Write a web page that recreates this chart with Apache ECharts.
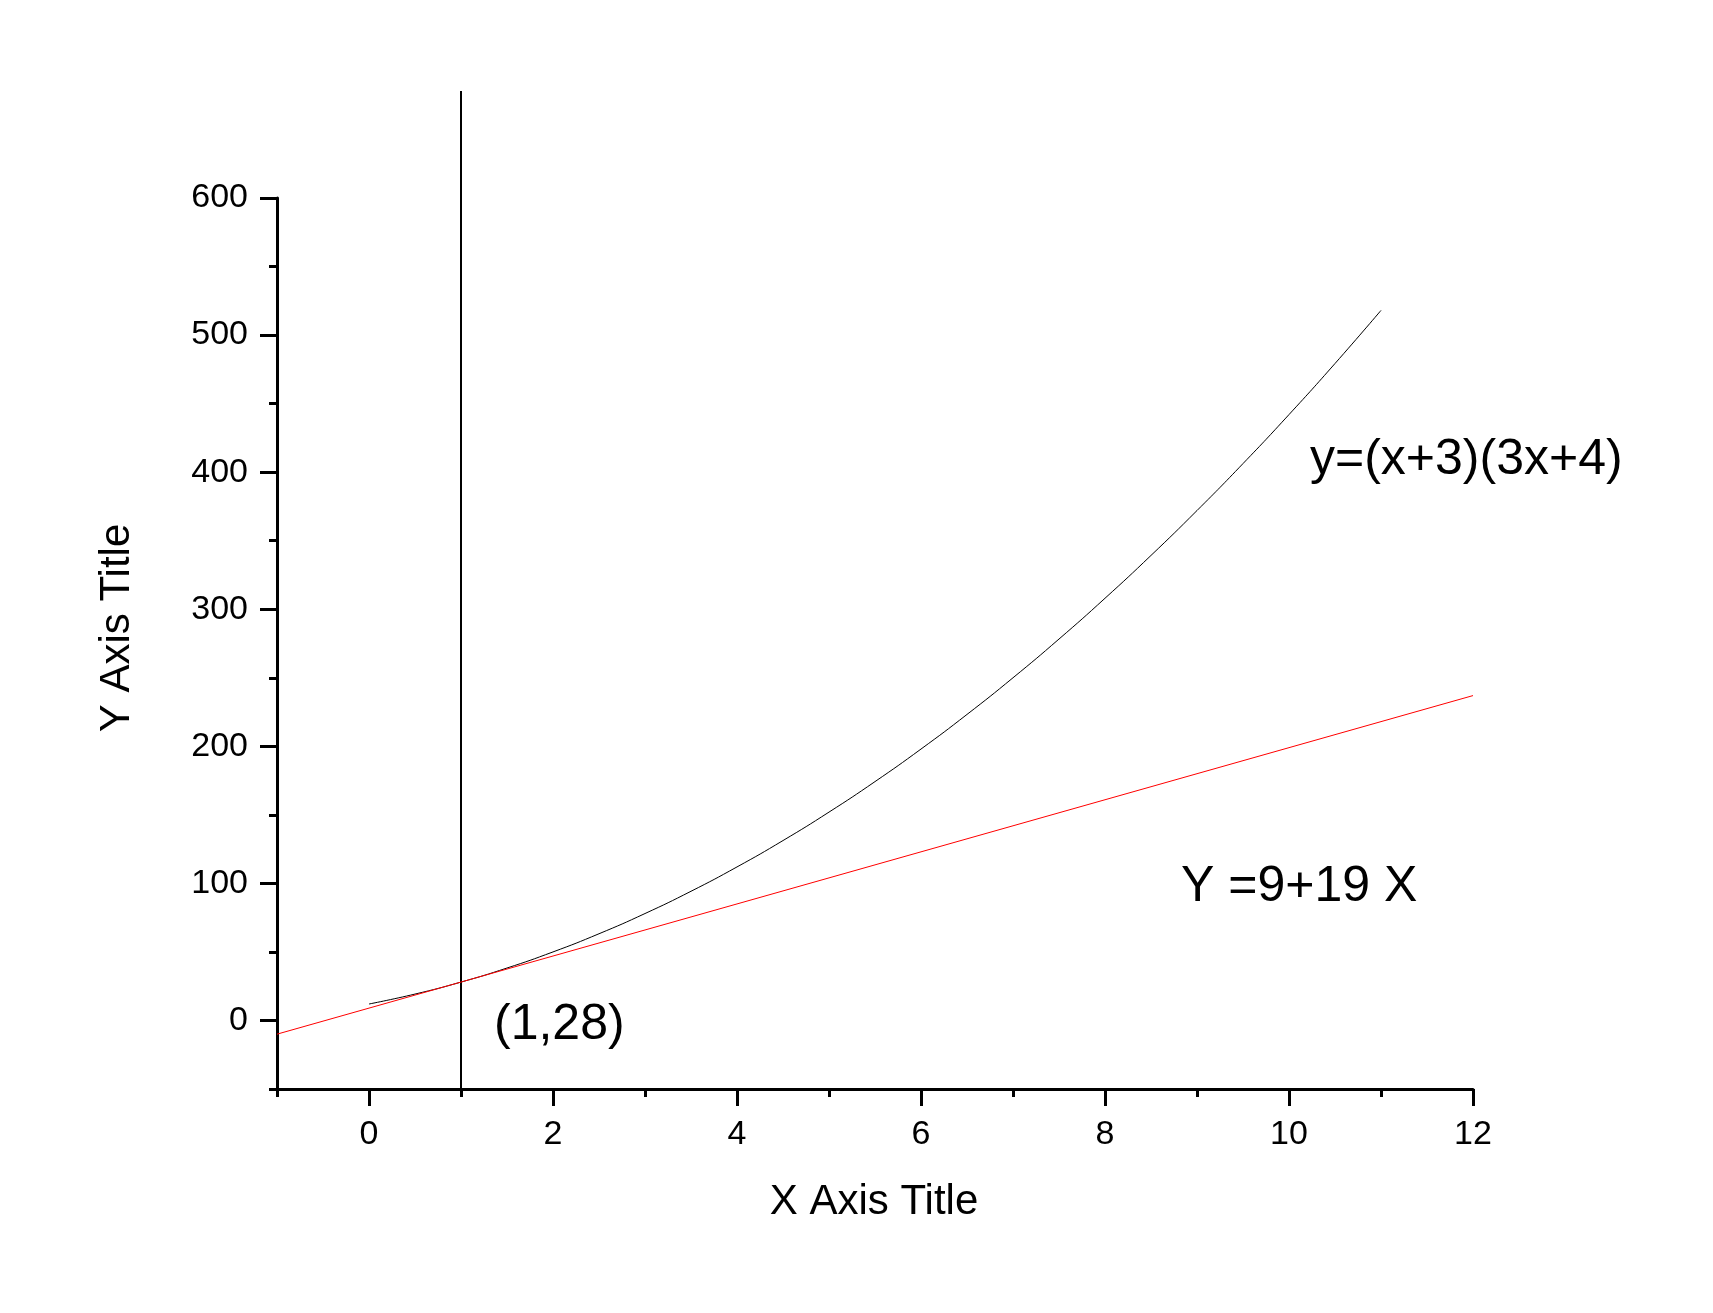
<!DOCTYPE html>
<html>
<head>
<meta charset="utf-8">
<style>html,body{margin:0;padding:0;background:#fff;}#c{width:1713px;height:1313px;}</style>
<script src="https://cdn.jsdelivr.net/npm/echarts@6/dist/echarts.min.js"></script>
</head>
<body>
<div id="c"></div>
<script>
// ---- data ----
var curveX = [0,0.5,1,1.5,2,2.5,3,3.5,4,4.5,5,5.5,6,6.5,7,7.5,8,8.5,9,9.5,10,10.5,11];
var curveY = [12,19.25,28,38.25,50,63.25,78,94.25,112,131.25,152,174.25,198,223.25,250,278.25,308,339.25,372,406.25,442,479.25,518];
var tangentX = [-1, 12];
var tangentY = [-10, 237];
var vlineX = [1, 1];
var vlineY = [-50, 678];
var xTickLabels = [0,2,4,6,8,10,12];
var yTickLabels = [0,100,200,300,400,500,600];
var labelCurve = 'y=(x+3)(3x+4)';
var labelLine = 'Y =9+19 X';
var labelPoint = '(1,28)';
var xTitle = 'X Axis Title';
var yTitle = 'Y Axis Title';

function zip(a, b) { return a.map(function (v, i) { return [v, b[i]]; }); }

var FONT = '"Liberation Sans", Arial, sans-serif';
var chart = echarts.init(document.getElementById('c'), null, {renderer: 'canvas'});
var axisLineStyle = {color: '#000', width: 3};

chart.setOption({
  animation: false,
  backgroundColor: '#fff',
  grid: {left: 277, top: 198, width: 1196, height: 891, containLabel: false, outerBoundsMode: 'none'},
  xAxis: [
    { type: 'value', min: -1, max: 12, interval: 1,
      axisLine: {show: true, onZero: false, lineStyle: axisLineStyle},
      axisTick: {show: true, length: 8, lineStyle: {color: '#000', width: 3}},
      axisLabel: {show: false}, splitLine: {show: false} },
    { type: 'value', min: -1, max: 12, position: 'bottom',
      axisLine: {show: false, onZero: false},
      axisTick: {show: true, length: 17, customValues: xTickLabels, lineStyle: {color: '#000', width: 3}},
      axisLabel: {show: true, customValues: xTickLabels, margin: 29, color: '#000', fontSize: 34, fontFamily: FONT},
      splitLine: {show: false} }
  ],
  yAxis: [
    { type: 'value', min: -50, max: 600, interval: 50,
      axisLine: {show: true, onZero: false, lineStyle: axisLineStyle},
      axisTick: {show: true, length: 8, lineStyle: {color: '#000', width: 3}},
      axisLabel: {show: false}, splitLine: {show: false} },
    { type: 'value', min: -50, max: 600, position: 'left',
      axisLine: {show: false, onZero: false},
      axisTick: {show: true, length: 17, customValues: yTickLabels, lineStyle: {color: '#000', width: 3}},
      axisLabel: {show: true, customValues: yTickLabels, margin: 29, color: '#000', fontSize: 34, fontFamily: FONT},
      splitLine: {show: false} }
  ],
  series: [
    { type: 'line', data: zip(vlineX, vlineY), xAxisIndex: 0, yAxisIndex: 0, clip: false,
      symbol: 'none', lineStyle: {color: '#000', width: 2}, z: 3 },
    { type: 'line', data: zip(curveX, curveY), xAxisIndex: 0, yAxisIndex: 0, smooth: true,
      symbol: 'none', lineStyle: {color: '#000', width: 1}, z: 4 },
    { type: 'line', data: zip(tangentX, tangentY), xAxisIndex: 0, yAxisIndex: 0, clip: false,
      symbol: 'none', lineStyle: {color: '#ff0000', width: 1}, z: 5 }
  ],
  graphic: [
    { type: 'text', x: 1310, y: 460, style: {text: labelCurve, fill: '#000', font: '50px ' + FONT, align: 'left', verticalAlign: 'middle'} },
    { type: 'text', x: 1181, y: 887, style: {text: labelLine, fill: '#000', font: '50px ' + FONT, align: 'left', verticalAlign: 'middle'} },
    { type: 'text', x: 494, y: 1025, style: {text: labelPoint, fill: '#000', font: '50px ' + FONT, align: 'left', verticalAlign: 'middle'} },
    { type: 'text', x: 874, y: 1202, style: {text: xTitle, fill: '#000', font: '42px ' + FONT, align: 'center', verticalAlign: 'middle'} },
    { type: 'text', x: 117, y: 628, rotation: Math.PI / 2, style: {text: yTitle, fill: '#000', font: '42px ' + FONT, align: 'center', verticalAlign: 'middle'} }
  ]
});
</script>
</body>
</html>
